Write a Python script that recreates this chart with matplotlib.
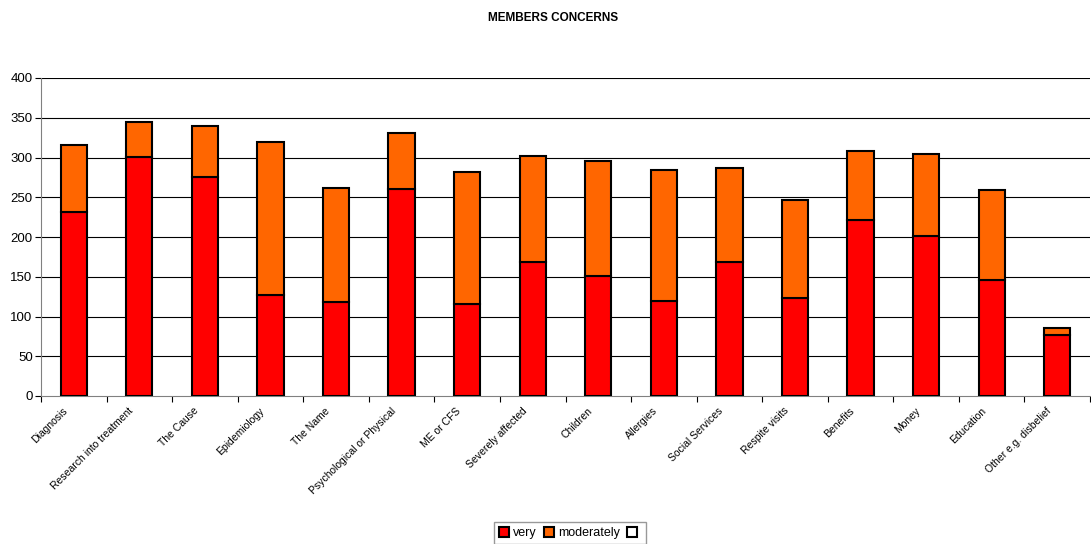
import matplotlib
matplotlib.use("Agg")
import matplotlib.pyplot as plt
from matplotlib.patches import Patch
import numpy as np

plt.rcParams["font.family"] = ["Liberation Sans", "DejaVu Sans"]

categories = ["Diagnosis", "Research into treatment", "The Cause", "Epidemiology",
              "The Name", "Psychological or Physical", "ME or CFS", "Severely affected",
              "Children", "Allergies", "Social Services", "Respite visits",
              "Benefits", "Money", "Education", "Other e.g. disbelief"]
very = [231, 301, 276, 127, 118, 260, 116, 168, 151, 119, 169, 123, 221, 201, 146, 77]
moderately = [85, 44, 63, 193, 144, 71, 166, 134, 144, 165, 118, 124, 87, 104, 113, 8]
yticks = [0, 50, 100, 150, 200, 250, 300, 350, 400]

fig = plt.figure(figsize=(10.91, 5.44), dpi=100)
ax = fig.add_axes([41 / 1091, 1 - 396 / 544, 1049 / 1091, 318 / 544])

x = np.arange(len(categories))
ax.bar(x, very, width=0.4, color="#FF0000", edgecolor="black", linewidth=1.5, zorder=3)
ax.bar(x, moderately, width=0.4, bottom=very, color="#FF6600", edgecolor="black",
       linewidth=1.5, zorder=3)

ax.set_xlim(-0.5, len(categories) - 0.5)
ax.set_ylim(0, 400)
ax.set_yticks(yticks)
ax.tick_params(axis="y", labelsize=9.5, length=4, direction="out", pad=2)
for y in yticks[1:]:
    ax.axhline(y, color="black", linewidth=0.8, zorder=1)

# category ticks sit on the boundaries between bars
ax.set_xticks(np.arange(len(categories) + 1) - 0.5)
ax.set_xticklabels([])
ax.tick_params(axis="x", length=4, direction="out")
for i, name in enumerate(categories):
    ax.annotate(name, xy=(i, 0), xycoords=("data", "axes fraction"),
                xytext=(-8, -7), textcoords="offset points",
                rotation=45, rotation_mode="anchor", ha="right", va="top", fontsize=7.5)

for side in ["top", "right"]:
    ax.spines[side].set_visible(False)
ax.spines["left"].set_color("#808080")
ax.spines["bottom"].set_color("#808080")

fig.text(553 / 1091, 1 - 18 / 544, "MEMBERS CONCERNS", ha="center", va="center",
         fontsize=8.5, fontweight="bold")

handles = [Patch(facecolor="#FF0000", edgecolor="black", linewidth=1.5),
           Patch(facecolor="#FF6600", edgecolor="black", linewidth=1.5),
           Patch(facecolor="white", edgecolor="black", linewidth=1.5)]
leg = fig.legend(handles, ["very", "moderately", ""], loc="lower center",
                 bbox_to_anchor=(570 / 1091, -0.012), ncol=3, fontsize=9,
                 frameon=True, fancybox=False, handlelength=0.8, handleheight=0.8,
                 handletextpad=0.3, columnspacing=0.6, borderpad=0.4)
leg.get_frame().set_edgecolor("#808080")
leg.get_frame().set_linewidth(1)

fig.savefig("out.png", dpi=100)
